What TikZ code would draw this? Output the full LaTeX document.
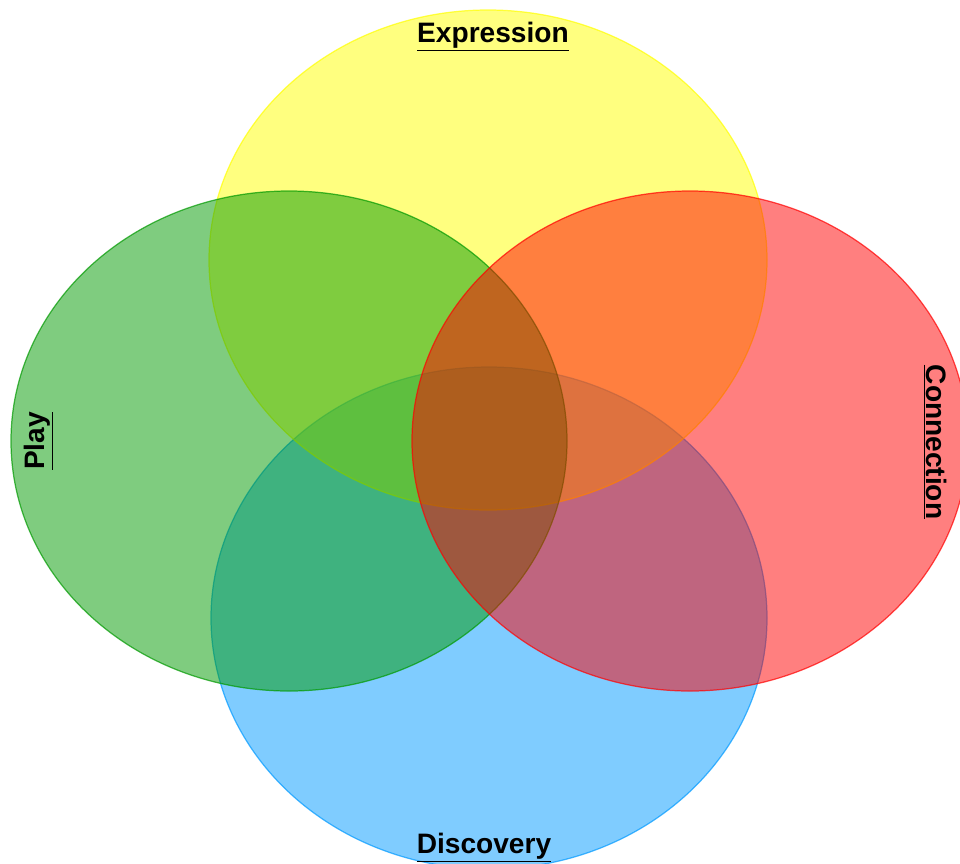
\documentclass[tikz,border=0pt]{standalone}
\usepackage{fontspec}
\setmainfont{Liberation Sans}
\definecolor{exprcol}{RGB}{255,255,0}
\definecolor{playcol}{RGB}{0,153,0}
\definecolor{conncol}{RGB}{255,0,0}
\definecolor{disccol}{RGB}{0,153,255}
\begin{document}
\begin{tikzpicture}[x=0.02cm,y=-0.02cm,line join=round,
            font=\fontsize{16}{19}\selectfont\bfseries,
            petal/.style={fill opacity=0.5,draw opacity=0.7,line width=0.7pt},
            label/.style={inner sep=1pt}]
            \useasboundingbox (0,0) rectangle (960,863);
            \clip (0,0) rectangle (960,863);
            \draw[petal,fill=disccol,draw=disccol] (489,618) ellipse [x radius=278,y radius=251];
            \draw[petal,fill=exprcol,draw=exprcol] (488,260) ellipse [x radius=279,y radius=250];
            \draw[petal,fill=playcol,draw=playcol] (289,441) ellipse [x radius=278,y radius=250];
            \draw[petal,fill=conncol,draw=conncol] (690,441) ellipse [x radius=278,y radius=250];
            \node[label] (expression) at (493,37) {\underline{Expression}};
            \node[label,rotate=90] (play) at (39,441) {\underline{Play}};
            \node[label,rotate=-90] (connection) at (935,442) {\underline{Connection}};
            \node[label] (discovery) at (484,848) {\underline{Discovery}};
        \end{tikzpicture}
\end{document}
